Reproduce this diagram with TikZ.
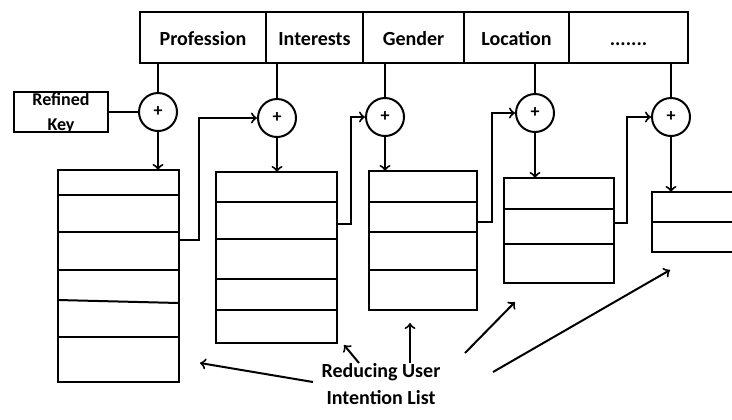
\documentclass[tikz,border=0pt]{standalone}
\usepackage{fontspec}
\setmainfont{Carlito}
\tikzset{
  cell/.style={draw, minimum height=25.5pt, inner sep=0pt, text height=8.5pt, text depth=1pt, font=\bfseries\fontsize{10}{12}\selectfont},
  plus/.style={draw, circle, minimum size=19pt, inner sep=0pt, font=\bfseries\fontsize{9}{10}\selectfont},
  box/.style={draw, inner sep=0pt},
}
\begin{document}
\begin{tikzpicture}[x=0.5pt, y=-0.5pt, line width=1pt]
        \useasboundingbox (0,0) rectangle (732,419);
        % attribute header
        \node[cell, minimum width=63pt] (P) at (203,37.5) {Profession};
        \node[cell, minimum width=48.5pt] (I) at (314.5,37.5) {Interests};
        \node[cell, minimum width=50.5pt] (G) at (413.5,37.5) {Gender};
        \node[cell, minimum width=52.5pt] (Lo) at (516.5,37.5) {Location};
        \node[cell, minimum width=59.5pt] (D) at (628.5,37.5) {.......};
        % refined key
        \node[box, minimum width=47pt, minimum height=20pt] (K) at (61,112) {};
        \node[font=\bfseries\fontsize{9}{12.5}\selectfont, align=center, inner sep=0pt] (Kt) at (61,113) {Refined\\Key};
        % adders
        \node[plus] (C1) at (158,112) {+};
        \node[plus] (C2) at (277,118) {+};
        \node[plus] (C3) at (385,117) {+};
        \node[plus] (C4) at (535,113) {+};
        \node[plus] (C5) at (671,117) {+};
        % intention lists
        \draw (58,170) rectangle (179,382);
        \foreach \r in {195,232,270,337} \draw (58,\r) -- (179,\r);
        \draw (58,300) -- (179,303);
        \coordinate (L1) at (118.5,170);
        \draw (216,172) rectangle (337,343);
        \foreach \r in {202,239,279,310} \draw (216,\r) -- (337,\r);
        \coordinate (L2) at (276.5,172);
        \draw (369,171) rectangle (477,310);
        \foreach \r in {202,232,270} \draw (369,\r) -- (477,\r);
        \coordinate (L3) at (423,171);
        \draw (504,178) rectangle (614,283);
        \foreach \r in {209,244} \draw (504,\r) -- (614,\r);
        \coordinate (L4) at (559,178);
        \draw (740,192) -- (652,192) -- (652,252) -- (740,252);
        \draw (652,222) -- (740,222);
        \coordinate (L5) at (696,192);
        % header to adders
        \path (P.south -| C1) edge (C1);
        \path (I.south -| C2) edge (C2);
        \path (G.south -| C3) edge (C3);
        \path (Lo.south -| C4) edge (C4);
        \path (D.south -| C5) edge (C5);
        \path (K) edge (C1);
        % adders to lists
        \path (C1) edge [->] (C1 |- L1);
        \path (C2) edge [->] (C2 |- L2);
        \path (C3) edge [->] (C3 |- L3);
        \path (C4) edge [->] (C4 |- L4);
        \path (C5) edge [->] (C5 |- L5);
        % list back to next adder
        \coordinate (O1) at (179,240); \coordinate (J1) at (199,240);
        \coordinate (O2) at (337,224); \coordinate (J2) at (351,224);
        \coordinate (O3) at (477,222); \coordinate (J3) at (492,222);
        \coordinate (O4) at (614,223); \coordinate (J4) at (627,223);
        \draw[->] (O1) -- (J1) |- (C2);
        \draw[->] (O2) -- (J2) |- (C3);
        \draw[->] (O3) -- (J3) |- (C4);
        \draw[->] (O4) -- (J4) |- (C5);
        % caption
        \node[font=\bfseries\fontsize{10}{13.5}\selectfont, align=center, inner sep=0pt] (R) at (381,384) {Reducing User\\Intention List};
        \coordinate (T1) at (313,382); \coordinate (H1) at (200,363);
        \coordinate (T2) at (359,363); \coordinate (H2) at (344,345);
        \coordinate (T3) at (410,363); \coordinate (H3) at (410,323);
        \coordinate (T4) at (465,353); \coordinate (H4) at (515,302);
        \coordinate (T5) at (493,372); \coordinate (H5) at (670,270);
        \path (T1) edge [->] (H1);
        \path (T2) edge [->] (H2);
        \path (T3) edge [->] (H3);
        \path (T4) edge [->] (H4);
        \path (T5) edge [->] (H5);
      \end{tikzpicture}
\end{document}
